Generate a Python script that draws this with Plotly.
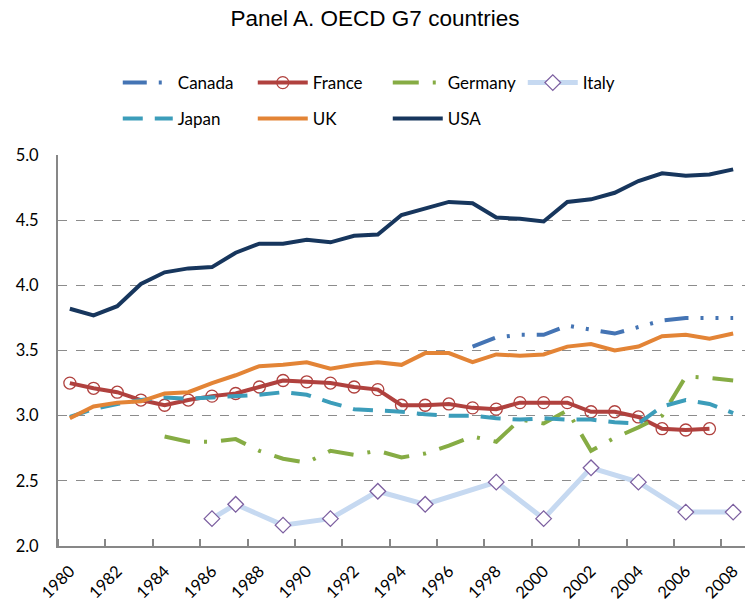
import plotly.graph_objects as go

# Years on the x axis
years = list(range(1980, 2009))

# Series values (None = no data)
canada = [None] * 17 + [3.53, 3.60, 3.62, 3.62, 3.69, 3.66, 3.63, 3.68, 3.73, 3.75, 3.75, 3.75]
france = [3.25, 3.21, 3.18, 3.12, 3.08, 3.12, 3.15, 3.17, 3.22, 3.27, 3.26, 3.25, 3.22, 3.20,
          3.08, 3.08, 3.09, 3.06, 3.05, 3.10, 3.10, 3.10, 3.03, 3.03, 2.99, 2.90, 2.89, 2.90, None]
germany = [None] * 4 + [2.84, 2.80, 2.80, 2.82, 2.73, 2.67, 2.64, 2.73, 2.70, 2.73,
                        2.68, 2.71, 2.77, 2.84, 2.80, 2.97, 2.94, 3.04, 2.73, 2.83, 2.91, 3.00, 3.30, 3.29, 3.27]
italy = [None] * 6 + [2.21, 2.32, None, 2.16, None, 2.21, None, 2.42, None, 2.32, None, None,
                      2.49, None, 2.21, None, 2.60, None, 2.49, None, 2.26, None, 2.26]
japan = [2.99, 3.05, 3.09, 3.12, 3.14, 3.13, 3.14, 3.15, 3.16, 3.18, 3.16, 3.10, 3.05, 3.04,
         3.03, 3.01, 3.00, 3.00, 2.98, 2.97, 2.98, 2.97, 2.97, 2.95, 2.94, 3.07, 3.12, 3.09, 3.02]
uk = [2.98, 3.07, 3.10, 3.11, 3.17, 3.18, 3.25, 3.31, 3.38, 3.39, 3.41, 3.36, 3.39, 3.41,
      3.39, 3.48, 3.48, 3.41, 3.47, 3.46, 3.47, 3.53, 3.55, 3.50, 3.53, 3.61, 3.62, 3.59, 3.63]
usa = [3.82, 3.77, 3.84, 4.01, 4.10, 4.13, 4.14, 4.25, 4.32, 4.32, 4.35, 4.33, 4.38, 4.39,
       4.54, 4.59, 4.64, 4.63, 4.52, 4.51, 4.49, 4.64, 4.66, 4.71, 4.80, 4.86, 4.84, 4.85, 4.89]

label_years = list(range(1980, 2009, 2))

fig = go.Figure()

fig.add_trace(go.Scatter(x=years, y=canada, name="Canada", mode="lines",
                         line=dict(color="#4474B4", width=4, dash="24px,12px,3px,12px,3px,12px"),
                         legend="legend"))
fig.add_trace(go.Scatter(x=years, y=france, name="France", mode="lines+markers",
                         line=dict(color="#B0413E", width=4),
                         marker=dict(symbol="circle-open", size=12, color="#B0413E", line=dict(width=1.3)),
                         legend="legend"))
fig.add_trace(go.Scatter(x=years, y=germany, name="Germany", mode="lines",
                         line=dict(color="#86AC44", width=4, dash="26px,14px,3px,14px"),
                         legend="legend"))
fig.add_trace(go.Scatter(x=years, y=italy, name="Italy", mode="lines+markers", connectgaps=True,
                         line=dict(color="#C6D9F1", width=5),
                         marker=dict(symbol="diamond", size=12, color="white",
                                     line=dict(color="#7C5FA0", width=1.3)),
                         legend="legend"))
fig.add_trace(go.Scatter(x=years, y=japan, name="Japan", mode="lines",
                         line=dict(color="#3C9DBA", width=4, dash="20px,12px"),
                         legend="legend2"))
fig.add_trace(go.Scatter(x=years, y=uk, name="UK", mode="lines",
                         line=dict(color="#E38436", width=4),
                         legend="legend2"))
fig.add_trace(go.Scatter(x=years, y=usa, name="USA", mode="lines",
                         line=dict(color="#17365D", width=4),
                         legend="legend2"))

legend_style = dict(orientation="h", xanchor="left", yanchor="middle",
                    entrywidth=70, entrywidthmode="pixels", itemwidth=50,
                    font=dict(family="Lato", size=17, color="black"),
                    bgcolor="rgba(0,0,0,0)", itemclick=False, itemdoubleclick=False)

fig.update_layout(
    width=747, height=606,
    margin=dict(l=58, r=2, t=155, b=60, autoexpand=False),
    paper_bgcolor="white", plot_bgcolor="white",
    title=dict(text="Panel A. OECD G7 countries", x=0.502, xanchor="center", y=0.97, yanchor="middle",
               font=dict(family="Liberation Sans", size=22.5, color="black")),
    showlegend=True,
    legend=dict(x=0.087, y=1.184, **legend_style),
    legend2=dict(x=0.087, y=1.092, **legend_style),
    xaxis=dict(
        range=[1979.5, 2008.5],
        tickmode="array", tickvals=label_years, ticktext=[str(y) for y in label_years],
        tickangle=-45, ticks="", ticklabelstandoff=7,
        tickfont=dict(family="Lato", size=16.5, color="black"),
        showgrid=False, zeroline=False,
        showline=True, linecolor="#878787", linewidth=2,
        minor=dict(tickmode="linear", tick0=1981.5, dtick=2, ticks="inside", ticklen=7,
                   tickcolor="#878787", tickwidth=2, showgrid=False),
    ),
    yaxis=dict(
        range=[2, 5], dtick=0.5, tickformat=".1f", ticks="", ticklabelstandoff=14,
        tickfont=dict(family="Lato", size=16.5, color="black"),
        showgrid=True, gridcolor="#8c8c8c", griddash="dash", gridwidth=1.3,
        zeroline=False, showline=True, linecolor="#878787", linewidth=2,
    ),
)

# drop the default page margin so the figure sits at the window's top-left corner
fig.write_html("out.html", config={"displayModeBar": False},
               post_script="document.body.style.margin = '0';")
